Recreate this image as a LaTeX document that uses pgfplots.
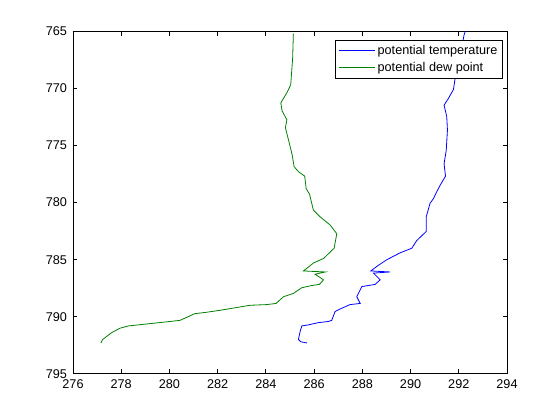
\documentclass[border=0pt]{standalone}
\usepackage{fontspec}
\setmainfont{Liberation Sans}
\usepackage{pgfplots}
\pgfplotsset{compat=1.18}
\definecolor{mblue}{rgb}{0,0,1}
\definecolor{mgreen}{rgb}{0,0.5,0}
\begin{document}
\begin{tikzpicture}
\begin{axis}[
  scale only axis,
  width=325.5pt, height=256.7pt,
  xmin=276, xmax=294, ymin=765, ymax=795,
  y dir=reverse,
  xtick={276,278,...,294}, ytick={765,770,...,795},
  tick align=inside,
  major tick length=3.3pt,
  axis line style={line width=0.6pt},
  every tick/.style={black, line width=0.6pt},
  tick label style={font=\fontsize{9.5}{11}\selectfont},
  /pgf/number format/assume math mode=true,
  /pgf/number format/1000 sep={},
  xticklabel style={yshift=-1pt},
  yticklabel style={xshift=-1pt},
  legend style={at={(0.991,0.975)}, anchor=north east, draw=black, line width=0.6pt,
    font=\fontsize{9.5}{11}\selectfont, inner xsep=2pt, inner ysep=1.5pt,
    cells={anchor=west}, row sep=0.5pt},
  legend image code/.code={\draw[#1, line width=0.6pt] (0pt,0pt) -- (27pt,0pt);},
]
\addplot[mblue, line width=0.6pt] coordinates {
(292.30,764.8) (292.22,765.3) (292.03,767.51) (291.89,768.5) (291.78,770.08) (291.57,770.87)
(291.39,771.46) (291.50,772.45) (291.53,773.63) (291.48,775.41) (291.39,776.6)
(291.45,777.68) (291.23,778.47) (291.06,779.16) (290.95,779.65) (290.81,780.05)
(290.65,781.25) (290.65,782.53) (290.26,783.32) (290.05,784.0) (289.57,784.4)
(289.02,785.0) (288.67,785.49) (288.35,785.99) (289.15,786.08) (288.46,786.18)
(288.74,786.77) (288.53,787.17) (287.98,787.36) (287.77,788.25) (287.91,788.84)
(287.49,788.94) (287.0,789.4) (286.87,789.55) (286.73,790.32) (286.59,790.42)
(286.18,790.52) (285.76,790.72) (285.49,790.81) (285.42,791.3) (285.35,792.0)
(285.45,792.2) (285.70,792.3)
};
\addlegendentry{potential temperature}
\addplot[mgreen, line width=0.6pt] coordinates {
(285.14,765.2) (285.11,767.31) (285.03,769.68) (284.87,770.37) (284.62,771.26)
(284.67,771.95) (284.87,772.74) (284.81,773.43) (284.95,774.62) (285.09,775.81)
(285.17,776.85) (285.35,777.29) (285.61,777.68) (285.67,778.77) (285.81,779.26)
(285.97,780.66) (286.25,781.25) (286.66,781.95) (286.94,782.73) (286.83,784.0)
(286.39,784.9) (285.97,785.3) (285.56,785.99) (286.46,786.08) (286.04,786.28)
(286.39,786.77) (286.22,787.17) (285.90,787.27) (285.49,787.46) (285.14,787.96)
(284.73,788.25) (284.42,788.84) (284.03,788.94) (283.34,789.0) (282.10,789.44)
(281.48,789.63) (281.06,789.73) (280.44,790.32) (280.02,790.42) (278.30,790.81)
(277.95,791.01) (277.60,791.4) (277.23,792.0) (277.16,792.3)
};
\addlegendentry{potential dew point}
\end{axis}
\pgfresetboundingbox
\path[use as bounding box] ([xshift=-54.75pt,yshift=-34.65pt]current axis.south west) rectangle ([xshift=39.75pt,yshift=23.6pt]current axis.north east);
\end{tikzpicture}
\end{document}
